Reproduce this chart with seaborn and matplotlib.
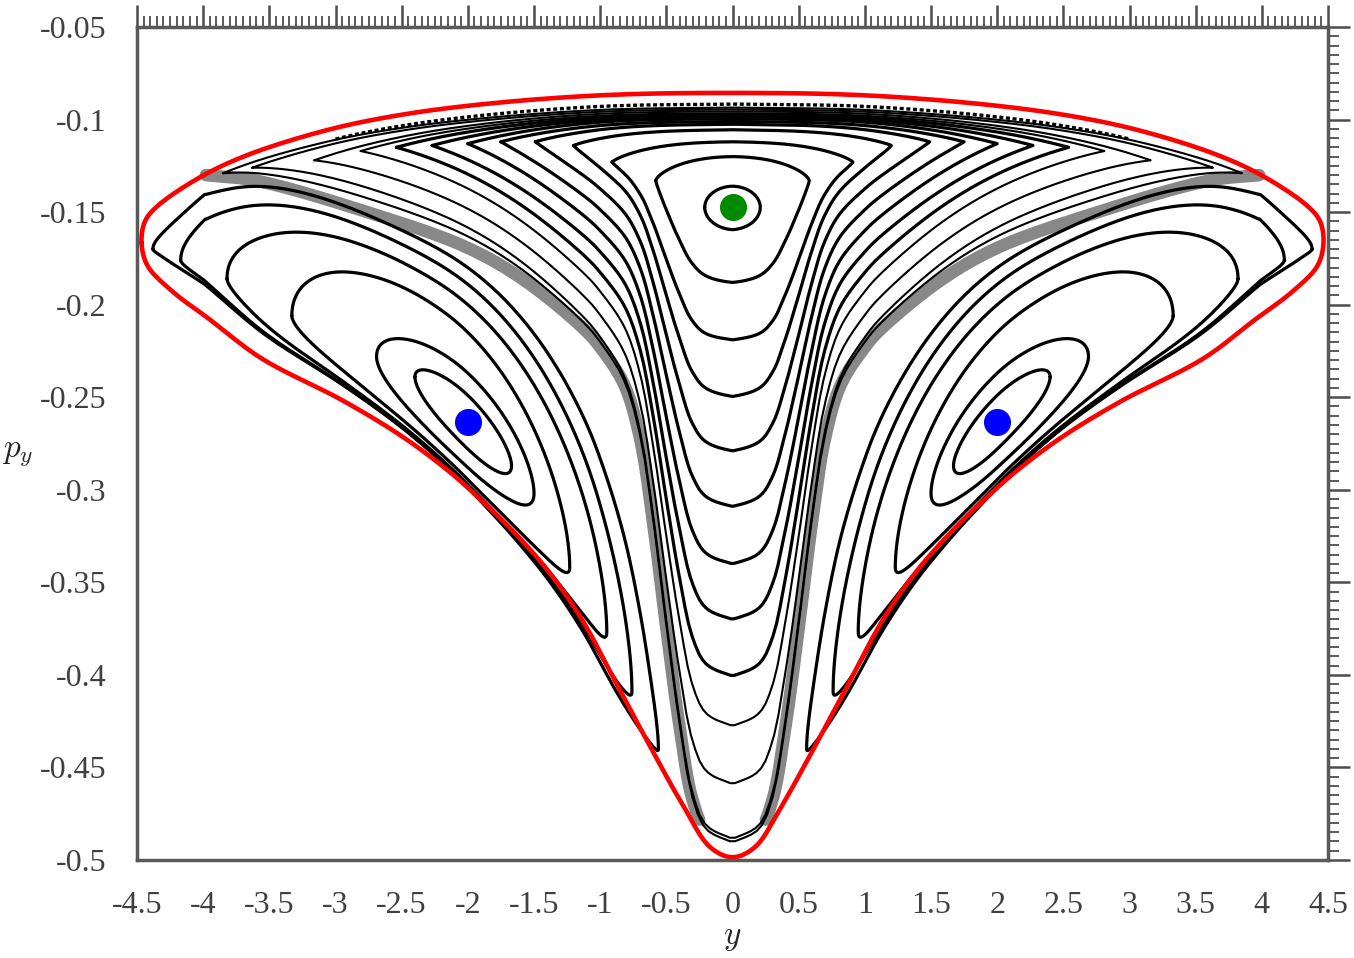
import numpy as np
import pandas as pd
import matplotlib
matplotlib.use("Agg")
import matplotlib.pyplot as plt
import seaborn as sns
from matplotlib.ticker import MultipleLocator, FuncFormatter

# --- data (left half; the figure is mirror symmetric) ---
# red energy boundary
upper_y = [-4.466, -4.44, -4.35, -4.02, -3.66, -3.06, -2.51, -1.86, -0.97, 0.0]
upper_p = [-0.1665, -0.155, -0.147, -0.131, -0.119, -0.1056, -0.0975, -0.0915, -0.0868, -0.0856]
lower_y = [-4.466, -4.42, -4.23, -3.95, -3.56, -2.94, -2.49, -2.135, -1.886, -1.63,
           -1.38, -1.13, -0.875, -0.62, -0.37, -0.17, 0.0]
lower_p = [-0.1665, -0.179, -0.193, -0.208, -0.229, -0.252, -0.2715, -0.2905, -0.3065, -0.3245,
           -0.345, -0.371, -0.405, -0.439, -0.471, -0.493, -0.4985]

# separatrix (|y|, p_y) between the central island and the side islands
sep_y = [0.0, 0.2, 0.3, 0.4, 0.5, 0.6, 0.7, 0.82, 1.0, 1.11, 1.57, 2.01, 2.76, 3.6, 3.98]
sep_p = [-0.491, -0.484, -0.468, -0.428, -0.375, -0.318, -0.272, -0.243, -0.223, -0.214,
         -0.187, -0.169, -0.150, -0.133, -0.130]

# fixed points
centre_fp = (0.0, -0.1475)
side_fp_y = [-2.0, 2.0]
side_fp_p = [-0.2636, -0.2636]

# central island orbits: tip (y, p), crossing of y = 0 at top and bottom
c_tip_y = [0.21, 0.58, 0.91, 1.20, 1.49, 1.75, 2.00, 2.27, 2.54, 2.81, 3.16, 3.63, 3.85]
c_tip_p = [-0.1475, -0.133, -0.123, -0.114, -0.112, -0.112, -0.113, -0.114, -0.115,
           -0.117, -0.122, -0.126, -0.129]
c_top_p = [-0.136, -0.120, -0.112, -0.1055, -0.1025, -0.101, -0.0995, -0.0985, -0.0975,
           -0.0965, -0.0955, -0.0945, -0.0935]
c_bot_p = [-0.1595, -0.188, -0.219, -0.2496, -0.279, -0.309, -0.340, -0.370, -0.4006,
           -0.4276, -0.459, -0.4886, -0.4905]
dotted_gap = 0.006   # chaotic layer just under the red curve

# left island orbits: outer end, inner end, crossings of y = -2
s_a_y = [-2.40, -2.69, -3.33, -3.82, -4.17, -4.38]
s_a_p = [-0.239, -0.228, -0.206, -0.186, -0.176, -0.170]
s_b_y = [-1.67, -1.50, -1.23, -0.95, -0.76, -0.56]
s_b_p = [-0.287, -0.302, -0.342, -0.377, -0.409, -0.440]
s_hi_p = [-0.249, -0.237, -0.215, -0.200, -0.189, -0.180]
s_lo_p = [-0.278, -0.288, -0.2945, -0.2972, -0.2983, -0.2988]

# shape exponents (style only)
c_mu = [2.0, 2.2, 2.5, 2.8, 3.0, 3.2, 3.4, 3.5, 3.5, 3.5, 3.5, 3.5, 3.5]
c_n = [2.0, 1.5, 1.3, 1.2, 1.1, 1.05, 1.0, 1.0, 1.0, 1.0, 1.0, 1.0, 1.0]
s_m = [2.0, 2.0, 2.2, 2.4, 2.6, 2.8]

PY = 14.0  # p_y scale that makes the picture roughly isotropic


def catmull_rom(xs, ys, n=14, closed=False):
    """Centripetal Catmull-Rom through the read points (for a smooth stroke)."""
    P = np.c_[np.asarray(xs, float), np.asarray(ys, float) * PY]
    if closed:
        P = np.vstack([P[-1], P, P[0], P[1]])
    else:
        P = np.vstack([2 * P[0] - P[1], P, 2 * P[-1] - P[-2]])
    out = []
    for i in range(len(P) - 3):
        p0, p1, p2, p3 = P[i], P[i + 1], P[i + 2], P[i + 3]
        t0 = 0.0
        t1 = t0 + max(np.linalg.norm(p1 - p0), 1e-6) ** 0.5
        t2 = t1 + max(np.linalg.norm(p2 - p1), 1e-6) ** 0.5
        t3 = t2 + max(np.linalg.norm(p3 - p2), 1e-6) ** 0.5
        t = np.linspace(t1, t2, n, endpoint=False)[:, None]
        a1 = (t1 - t) / (t1 - t0) * p0 + (t - t0) / (t1 - t0) * p1
        a2 = (t2 - t) / (t2 - t1) * p1 + (t - t1) / (t2 - t1) * p2
        a3 = (t3 - t) / (t3 - t2) * p2 + (t - t2) / (t3 - t2) * p3
        b1 = (t2 - t) / (t2 - t0) * a1 + (t - t0) / (t2 - t0) * a2
        b2 = (t3 - t) / (t3 - t1) * a2 + (t - t1) / (t3 - t1) * a3
        out.append((t2 - t) / (t2 - t1) * b1 + (t - t1) / (t2 - t1) * b2)
    out = np.vstack(out)
    if not closed:
        out = np.vstack([out, P[-2]])
    return out[:, 0], out[:, 1] / PY


top_sy, top_sp = catmull_rom(upper_y, upper_p)
low_sy, low_sp = catmull_rom(lower_y, lower_p)
sep_sy, sep_sp = catmull_rom(sep_y, sep_p)
top_sy = np.maximum.accumulate(top_sy)
low_sy = np.maximum.accumulate(low_sy)
sep_sy = np.maximum.accumulate(sep_sy)


def red_top(y):
    return np.interp(-np.abs(y), top_sy, top_sp)


def red_low(y):
    return np.interp(-np.abs(y), low_sy, low_sp)


def sep(y):
    return np.interp(np.abs(y), sep_sy, sep_sp)


def side_top(y):
    return np.where(np.abs(y) <= sep_y[-1], sep(y), red_top(y))


phi = np.linspace(0, np.pi, 300)
xs = -np.cos(phi)
frames = []


def add_curve(name, ys, ps, lw):
    frames.append(pd.DataFrame({"y": ys, "p": ps, "orbit": name, "lw": lw}))


# central island
for i in range(len(c_tip_y)):
    yt = c_tip_y[i]
    h0 = red_top(0.0) - sep(0.0)
    g_t = red_top(0.0) - c_top_p[i]
    g_tip = red_top(yt) - c_tip_p[i]
    tau_tip = (c_tip_p[i] - sep(yt)) / (red_top(yt) - sep(yt))
    tau_b = (c_bot_p[i] - sep(0.0)) / h0
    y = yt * xs
    fu = np.clip(1 - np.abs(xs) ** c_mu[i], 0, 1) ** (1 / c_n[i])
    fl = np.clip(1 - np.abs(xs) ** 2.0, 0, 1) ** (1 / c_n[i])
    lo, hi = sep(y), red_top(y)
    pu = hi - (g_tip - (g_tip - g_t) * fu)
    pl = lo + (tau_tip - (tau_tip - tau_b) * fl) * (hi - lo)
    add_curve(f"c{i}", np.r_[y, y[::-1]], np.r_[pu, pl[::-1]], "thin" if i >= 9 else "thick")

# side islands
for i in range(len(s_a_y)):
    ya, yb = s_a_y[i], s_b_y[i]
    yc, a = (ya + yb) / 2, (yb - ya) / 2
    ta = (s_a_p[i] - red_low(ya)) / (side_top(ya) - red_low(ya))
    tb = (s_b_p[i] - red_low(yb)) / (side_top(yb) - red_low(yb))
    x0 = (-2.0 - yc) / a
    f0 = (1 - abs(x0) ** s_m[i]) ** 0.5
    tc0 = ta + (tb - ta) * (x0 + 1) / 2
    h2 = side_top(-2.0) - red_low(-2.0)
    bu = ((s_hi_p[i] - red_low(-2.0)) / h2 - tc0) / f0
    bl = (tc0 - (s_lo_p[i] - red_low(-2.0)) / h2) / f0
    y = yc + a * xs
    f = np.clip(1 - np.abs(xs) ** s_m[i], 0, 1) ** 0.5
    tc = ta + (tb - ta) * (xs + 1) / 2
    lo, hi = red_low(y), side_top(y)
    pu = lo + (tc + bu * f) * (hi - lo)
    pl = lo + (tc - bl * f) * (hi - lo)
    yy = np.r_[y, y[::-1]]
    pp = np.r_[pu, pl[::-1]]
    add_curve(f"l{i}", yy, pp, "thick")
    add_curve(f"r{i}", -yy, pp, "thick")

orbits = pd.concat(frames, ignore_index=True)

# closed red boundary, smoothed through the read points
uy = np.array(upper_y)
up = np.array(upper_p)
ly = np.array(lower_y)
lp = np.array(lower_p)
ring_y = np.r_[uy, -uy[::-1][1:], -ly[1:-1], ly[::-1][:-1]]
ring_p = np.r_[up, up[::-1][1:], lp[1:-1], lp[::-1][:-1]]
bnd_y, bnd_p = catmull_rom(ring_y, ring_p, n=10, closed=True)
bnd_y = np.r_[bnd_y, bnd_y[0]]
bnd_p = np.r_[bnd_p, bnd_p[0]]

# separatrix band and top chaotic layer
band_y = np.r_[-sep_sy[::-1], sep_sy[1:]]
band_p = np.r_[sep_sp[::-1], sep_sp[1:]]
keep = np.abs(band_y) > 0.25
dot_y = np.linspace(-3.0, 3.0, 300)
dot_p = red_top(dot_y) - dotted_gap

# --- plotting ---
sns.set_theme(style="white")
plt.rcParams["font.family"] = ["Liberation Serif", "DejaVu Serif"]
plt.rcParams["mathtext.fontset"] = "cm"
plt.rcParams["axes.unicode_minus"] = False

fig = plt.figure(figsize=(13.54, 9.58), dpi=100)
ax = fig.add_axes([0.1012, 0.1023, 0.8796, 0.8695])

for side in (band_y < 0, band_y > 0):
    m = side & keep
    sns.lineplot(x=band_y[m], y=band_p[m], sort=False, estimator=None, color="0.15",
                 linewidth=9, alpha=0.55, ax=ax)
sns.lineplot(x=dot_y, y=dot_p, sort=False, estimator=None, color="black",
             linewidth=2.4, linestyle=(0, (1.2, 0.8)), ax=ax)
sns.lineplot(data=orbits, x="y", y="p", units="orbit", estimator=None, sort=False,
             size="lw", sizes={"thick": 2.3, "thin": 1.5}, color="black",
             legend=False, ax=ax)
sns.lineplot(x=bnd_y, y=bnd_p, sort=False, estimator=None, color="#ff0000",
             linewidth=3.3, ax=ax)
sns.scatterplot(x=[centre_fp[0]], y=[centre_fp[1]], color="#008a00", s=380,
                linewidth=0, zorder=5, ax=ax)
sns.scatterplot(x=side_fp_y, y=side_fp_p, color="#0000ff", s=380,
                linewidth=0, zorder=5, ax=ax)

ax.set_xlim(-4.5, 4.5)
ax.set_ylim(-0.5, -0.05)
ax.xaxis.set_major_locator(MultipleLocator(0.5))
ax.xaxis.set_minor_locator(MultipleLocator(0.05))
ax.yaxis.set_major_locator(MultipleLocator(0.05))
ax.yaxis.set_minor_locator(MultipleLocator(0.005))


def fmt(v, pos):
    v = round(v, 4)
    return "0" if v == 0 else f"{v:g}"


ax.xaxis.set_major_formatter(FuncFormatter(fmt))
ax.yaxis.set_major_formatter(FuncFormatter(fmt))
ax.tick_params(which="both", direction="out", top=True, right=True,
               labeltop=False, labelright=False, colors="0.3")
ax.tick_params(which="major", length=16, width=1.8, labelsize=23,
               labelcolor="0.25", pad=6)
ax.tick_params(which="minor", length=8, width=1.3)
for s in ax.spines.values():
    s.set_linewidth(2.5)
    s.set_color("0.35")

ax.set_xlabel("$y$", fontsize=24)
ax.set_ylabel("$p_y$", fontsize=24, rotation=0)
ax.xaxis.set_label_coords(0.5, -0.075)
ax.yaxis.set_label_coords(-0.1, 0.47)

fig.savefig("out.png", dpi=100)
